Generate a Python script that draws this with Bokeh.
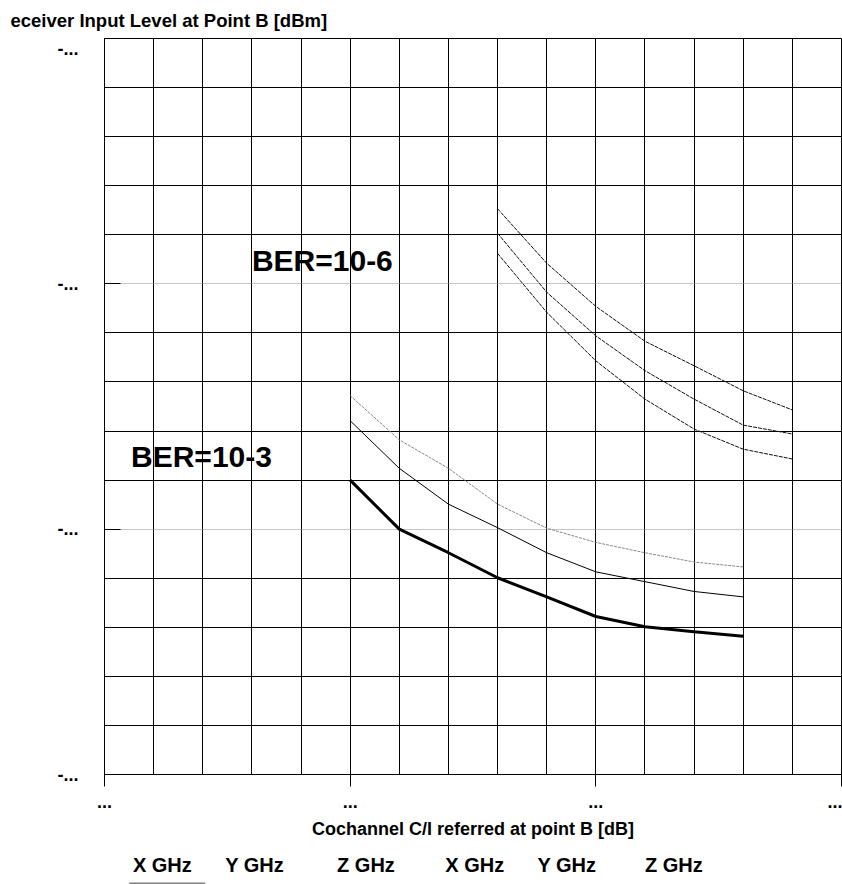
from bokeh.plotting import figure
from bokeh.layouts import column
from bokeh.models import Range1d, FixedTicker, Grid, Label, Title, LinearAxis
from bokeh.core.properties import value
from bokeh.embed import file_html
from bokeh.resources import INLINE

# ---------------- data (grid units: 1 unit = 1 grid cell) ----------------
x_ber3 = [5, 6, 7, 8, 9, 10, 11, 12, 13]
ber3_thick = [6.00, 5.00, 4.52, 4.01, 3.62, 3.22, 3.01, 2.91, 2.82]
ber3_mid = [7.21, 6.24, 5.51, 5.03, 4.52, 4.13, 3.93, 3.73, 3.62]
ber3_top = [7.72, 6.82, 6.24, 5.51, 5.02, 4.73, 4.52, 4.33, 4.23]

x_ber6 = [8, 9, 10, 11, 12, 13, 14]
ber6_top = [11.53, 10.42, 9.54, 8.83, 8.33, 7.82, 7.43]
ber6_mid = [11.03, 9.83, 8.94, 8.23, 7.65, 7.12, 6.94]
ber6_bot = [10.62, 9.42, 8.43, 7.65, 7.04, 6.63, 6.43]

x_ticks = [0, 5, 10, 15]
x_tick_labels = ["...", "...", "...", "..."]
y_ticks = [0, 5, 10, 15]
y_tick_labels = ["-...", "-...", "-...", "-..."]

y_label = "eceiver Input Level at Point B [dBm]"
x_label = "Cochannel C/I referred at point B [dB]"
ber_labels = ["BER=10-6", "BER=10-3"]
legend_labels = ["X GHz", "Y GHz", "Z GHz", "X GHz", "Y GHz", "Z GHz"]

FONT = "Liberation Sans"

p = figure(width=842, height=846, output_backend="svg", toolbar_location=None,
           x_range=Range1d(0, 15), y_range=Range1d(0, 15),
           min_border_left=104, min_border_right=1, min_border_top=38,
           min_border_bottom=72)
p.background_fill_color = "white"
p.border_fill_color = "white"
p.outline_line_color = "black"
p.outline_line_width = 1

# title (y-axis caption written horizontally at top-left)
p.title = Title(text=y_label, align="left", offset=-94, standoff=15,
                text_font=FONT, text_font_style="bold",
                text_font_size="18.5px", text_color="black")

# grid
p.xgrid.ticker = FixedTicker(ticks=list(range(1, 15)))
p.xgrid.grid_line_color = "black"
p.xgrid.grid_line_alpha = 1
p.ygrid.ticker = FixedTicker(ticks=[t for t in range(1, 15) if t % 5 != 0])
p.ygrid.grid_line_color = "black"
p.ygrid.grid_line_alpha = 1
dotted = Grid(dimension=1, ticker=FixedTicker(ticks=[5, 10]),
              grid_line_color="#8c8c8c", grid_line_dash="1 1", grid_line_width=1)
p.add_layout(dotted)

# axes
xa = p.xaxis[0]
xa.ticker = FixedTicker(ticks=x_ticks)
xa.major_label_overrides = {t: l for t, l in zip(x_ticks, x_tick_labels)}
xa.major_tick_in = 0
xa.major_tick_out = 12
xa.minor_tick_line_color = None
xa.axis_line_color = "black"
xa.major_tick_line_color = "black"
xa.major_label_standoff = 8
xa.major_label_text_font = FONT
xa.major_label_text_font_style = "bold"
xa.major_label_text_font_size = "18px"
xa.major_label_text_color = "black"
xa.axis_label = x_label
xa.axis_label_text_font = FONT
xa.axis_label_text_font_style = "bold"
xa.axis_label_text_font_size = "18px"
xa.axis_label_text_color = "black"
xa.axis_label_standoff = 8

ya = p.yaxis[0]
ya.ticker = FixedTicker(ticks=y_ticks)
overrides = {t: l for t, l in zip(y_ticks[:-1], y_tick_labels[:-1])}
overrides[y_ticks[-1]] = " "
ya.major_label_overrides = overrides
ya.major_tick_in = 16
ya.major_tick_out = 0
ya.minor_tick_line_color = None
ya.axis_line_color = "black"
ya.major_tick_line_color = "black"
ya.major_label_standoff = 26
ya.major_label_text_font = FONT
ya.major_label_text_font_style = "bold"
ya.major_label_text_font_size = "18px"
ya.major_label_text_color = "black"

# the top y label is drawn a little below its tick (label-only axis)
top_label_pos = y_ticks[-1] - 0.2
ya_top = LinearAxis(ticker=FixedTicker(ticks=[top_label_pos]),
                    major_label_overrides={top_label_pos: y_tick_labels[-1]},
                    major_tick_in=0, major_tick_out=0,
                    major_tick_line_color=None, minor_tick_line_color=None,
                    axis_line_color=None, major_label_standoff=-24,
                    major_label_text_font=FONT,
                    major_label_text_font_style="bold",
                    major_label_text_font_size="18px",
                    major_label_text_color="black")
p.add_layout(ya_top, "left")

# curves
p.line(x_ber6, ber6_top, line_color="#111111", line_width=1, line_dash="4 1")
p.line(x_ber6, ber6_mid, line_color="#111111", line_width=1, line_dash="4 1")
p.line(x_ber6, ber6_bot, line_color="#111111", line_width=1, line_dash="4 1")
p.line(x_ber3, ber3_top, line_color="#8a8a8a", line_width=1, line_dash="3 1")
p.line(x_ber3, ber3_mid, line_color="black", line_width=1)
p.line(x_ber3, ber3_thick, line_color="black", line_width=3)

# BER annotations
p.add_layout(Label(x=3.0, y=10.47, text=ber_labels[0], text_font=FONT,
                   text_font_style="bold", text_font_size="30px",
                   text_color="black", text_baseline="alphabetic"))
p.add_layout(Label(x=0.54, y=6.48, text=ber_labels[1], text_font=FONT,
                   text_font_style="bold", text_font_size="30px",
                   text_color="black", text_baseline="alphabetic"))

# legend strip below the chart (frame is aligned with the chart's frame,
# so it shares the chart's x scale; y in pixels, downward)
legend_x = [0.578, 2.458, 4.733, 6.935, 8.813, 11.00]
legend_y = [18] * len(legend_labels)
lg = figure(width=842, height=38, output_backend="svg", toolbar_location=None,
            x_range=p.x_range, y_range=Range1d(38, 0),
            x_axis_type=None, y_axis_type=None,
            min_border_left=104, min_border_right=1, min_border_top=0,
            min_border_bottom=0)
lg.outline_line_color = None
lg.background_fill_color = "white"
lg.border_fill_color = "white"
lg.xgrid.visible = False
lg.ygrid.visible = False
lg.text(x=legend_x, y=legend_y, text=legend_labels, text_font=value(FONT),
        text_font_style="bold", text_font_size="20px", text_color="black",
        text_baseline="alphabetic", text_align="left")
lg.line(x=[0.503, 2.051], y=[37, 37], line_color="#808080", line_width=2)

layout = column(p, lg, spacing=0)
open("out.html", "w").write(file_html(layout, INLINE))
